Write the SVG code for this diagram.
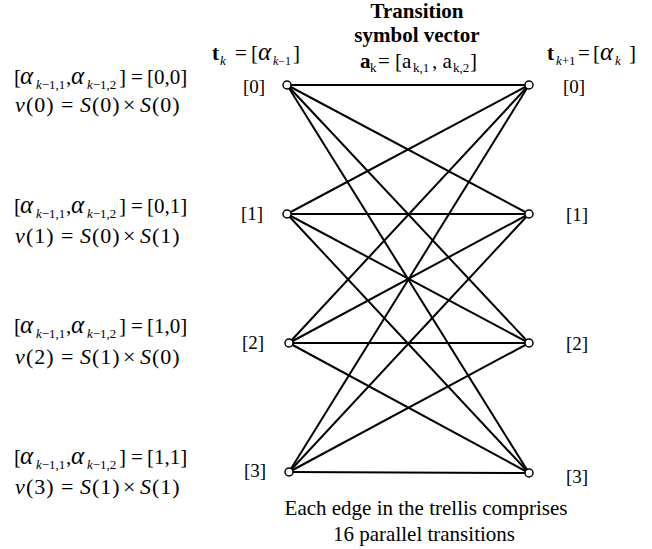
<svg xmlns="http://www.w3.org/2000/svg" width="652" height="549" viewBox="0 0 652 549">
<style>
text{font-family:"Liberation Serif","Times New Roman",serif;fill:#000}
.f{font-size:21px}
.i{font-style:italic}
.s{font-size:13px}
.b{font-weight:bold}
.a{font-style:italic;font-size:25px}
.p{letter-spacing:1px}
.lbl{font-size:19px}
.edge{stroke:#000;stroke-width:2;fill:none}
.node{fill:#fff;stroke:#000;stroke-width:1.5}
</style>
<rect width="652" height="549" fill="#fff"/>
<g id="header">
<text class="b" font-size="21" x="417" y="18" text-anchor="middle">Transition</text>
<text class="b" font-size="21" x="417" y="42" text-anchor="middle">symbol vector</text>
<text font-size="21" y="68"><tspan x="360" class="b">a</tspan><tspan x="370" dy="4" font-size="13">k</tspan><tspan x="378" dy="-4">= [a</tspan><tspan x="413" dy="4" font-size="13">k,1</tspan><tspan x="432" dy="-4">, a</tspan><tspan x="453" dy="4" font-size="13">k,2</tspan><tspan x="470" dy="-4">]</tspan></text>
<text font-size="21" y="60"><tspan x="212" class="b">t</tspan><tspan x="220" dy="5" class="s i">k</tspan><tspan x="235" dy="-5">=</tspan><tspan x="251">[</tspan><tspan x="258" class="a">α</tspan><tspan x="273" dy="5" font-size="12"><tspan class="i">k</tspan>−1</tspan><tspan x="293" dy="-5">]</tspan></text>
<text font-size="21" y="60"><tspan x="547" class="b">t</tspan><tspan x="556" dy="5" class="s"><tspan class="i">k</tspan>+1</tspan><tspan x="578" dy="-5">=</tspan><tspan x="593">[</tspan><tspan x="600" class="a">α</tspan><tspan x="615" dy="5" class="s i">k</tspan><tspan x="629" dy="-5">]</tspan></text>
</g>
<g id="formulas" class="f">
<g id="f0">
<text y="84"><tspan x="14">[</tspan><tspan x="20" class="a">α</tspan><tspan x="36" dy="5" class="s"><tspan class="i">k</tspan>−1,1</tspan><tspan x="66" dy="-5">,</tspan><tspan x="71" class="a">α</tspan><tspan x="87" dy="5" class="s"><tspan class="i">k</tspan>−1,2</tspan><tspan x="119" dy="-5">]</tspan><tspan x="131">=</tspan><tspan x="147">[0,0]</tspan></text>
<text y="112" font-size="22"><tspan x="15" class="i">ν</tspan><tspan x="26" class="p">(0)</tspan><tspan x="61">=</tspan><tspan x="80" class="i">S</tspan><tspan x="92" class="p">(0)</tspan><tspan x="123">×</tspan><tspan x="140" class="i">S</tspan><tspan x="152" class="p">(0)</tspan></text>
</g>
<g id="f1">
<text y="213"><tspan x="14">[</tspan><tspan x="20" class="a">α</tspan><tspan x="36" dy="5" class="s"><tspan class="i">k</tspan>−1,1</tspan><tspan x="66" dy="-5">,</tspan><tspan x="71" class="a">α</tspan><tspan x="87" dy="5" class="s"><tspan class="i">k</tspan>−1,2</tspan><tspan x="119" dy="-5">]</tspan><tspan x="131">=</tspan><tspan x="147">[0,1]</tspan></text>
<text y="243" font-size="22"><tspan x="15" class="i">ν</tspan><tspan x="26" class="p">(1)</tspan><tspan x="61">=</tspan><tspan x="80" class="i">S</tspan><tspan x="92" class="p">(0)</tspan><tspan x="123">×</tspan><tspan x="140" class="i">S</tspan><tspan x="152" class="p">(1)</tspan></text>
</g>
<g id="f2">
<text y="333"><tspan x="14">[</tspan><tspan x="20" class="a">α</tspan><tspan x="36" dy="5" class="s"><tspan class="i">k</tspan>−1,1</tspan><tspan x="66" dy="-5">,</tspan><tspan x="71" class="a">α</tspan><tspan x="87" dy="5" class="s"><tspan class="i">k</tspan>−1,2</tspan><tspan x="119" dy="-5">]</tspan><tspan x="131">=</tspan><tspan x="147">[1,0]</tspan></text>
<text y="364" font-size="22"><tspan x="15" class="i">ν</tspan><tspan x="26" class="p">(2)</tspan><tspan x="61">=</tspan><tspan x="80" class="i">S</tspan><tspan x="92" class="p">(1)</tspan><tspan x="123">×</tspan><tspan x="140" class="i">S</tspan><tspan x="152" class="p">(0)</tspan></text>
</g>
<g id="f3">
<text y="464"><tspan x="14">[</tspan><tspan x="20" class="a">α</tspan><tspan x="36" dy="5" class="s"><tspan class="i">k</tspan>−1,1</tspan><tspan x="66" dy="-5">,</tspan><tspan x="71" class="a">α</tspan><tspan x="87" dy="5" class="s"><tspan class="i">k</tspan>−1,2</tspan><tspan x="119" dy="-5">]</tspan><tspan x="131">=</tspan><tspan x="147">[1,1]</tspan></text>
<text y="494" font-size="22"><tspan x="15" class="i">ν</tspan><tspan x="26" class="p">(3)</tspan><tspan x="61">=</tspan><tspan x="80" class="i">S</tspan><tspan x="92" class="p">(1)</tspan><tspan x="123">×</tspan><tspan x="140" class="i">S</tspan><tspan x="152" class="p">(1)</tspan></text>
</g>
</g>
<g id="edges" class="edge">
<line x1="287" y1="85" x2="529" y2="85"/><line x1="287" y1="85" x2="529" y2="214"/><line x1="287" y1="85" x2="529" y2="343"/><line x1="287" y1="85" x2="529" y2="473"/>
<line x1="287" y1="214" x2="529" y2="85"/><line x1="287" y1="214" x2="529" y2="214"/><line x1="287" y1="214" x2="529" y2="343"/><line x1="287" y1="214" x2="529" y2="473"/>
<line x1="289" y1="343" x2="529" y2="85"/><line x1="289" y1="343" x2="529" y2="214"/><line x1="289" y1="343" x2="529" y2="343"/><line x1="289" y1="343" x2="529" y2="473"/>
<line x1="289" y1="472" x2="529" y2="85"/><line x1="289" y1="472" x2="529" y2="214"/><line x1="289" y1="472" x2="529" y2="343"/><line x1="289" y1="472" x2="529" y2="473"/>
</g>
<g id="L0"><circle class="node" cx="287" cy="85" r="4"/><text class="lbl" x="243" y="93">[0]</text></g>
<g id="L1"><circle class="node" cx="287" cy="214" r="4"/><text class="lbl" x="241" y="220">[1]</text></g>
<g id="L2"><circle class="node" cx="289" cy="343" r="4"/><text class="lbl" x="242" y="349">[2]</text></g>
<g id="L3"><circle class="node" cx="289" cy="472" r="4"/><text class="lbl" x="244" y="477">[3]</text></g>
<g id="R0"><circle class="node" cx="529" cy="85" r="4"/><text class="lbl" x="563" y="93">[0]</text></g>
<g id="R1"><circle class="node" cx="529" cy="214" r="4"/><text class="lbl" x="566" y="221">[1]</text></g>
<g id="R2"><circle class="node" cx="529" cy="343" r="4"/><text class="lbl" x="566" y="350">[2]</text></g>
<g id="R3"><circle class="node" cx="529" cy="473" r="4"/><text class="lbl" x="566" y="483">[3]</text></g>
<g id="caption">
<text font-size="21" x="426" y="515" text-anchor="middle">Each edge in the trellis comprises</text>
<text font-size="21" x="424" y="541" text-anchor="middle">16 parallel transitions</text>
</g>
</svg>
